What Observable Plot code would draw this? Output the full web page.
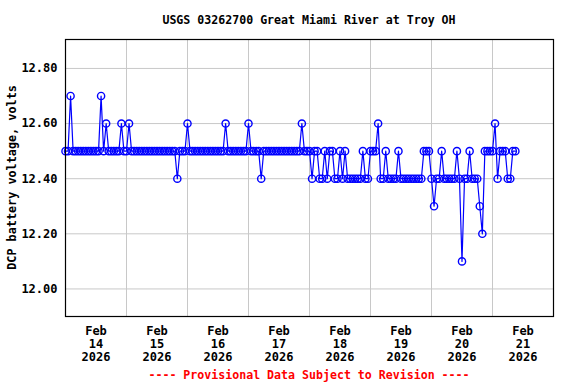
<!DOCTYPE html>
<html><head><meta charset="utf-8">
<script src="https://cdn.jsdelivr.net/npm/d3@7"></script>
<script src="https://cdn.jsdelivr.net/npm/@observablehq/plot@0.6"></script>
<style>body{margin:0;background:#fff}</style>
</head><body><div id="chart"></div>
<script>
const title = "USGS 03262700 Great Miami River at Troy OH";
const yLabel = "DCP battery voltage, volts";
const caption = "---- Provisional Data Subject to Revision ----";
const startTime = "2026-02-14T00:00Z";
const stepHours = 1;
// hourly DCP battery voltage readings, Feb 14 00:00 onward
const voltage = [
  12.5,12.5,12.7,12.5,12.5,12.5,12.5,12.5,12.5,12.5,12.5,12.5,12.5,12.5,12.7,12.5,12.6,12.5,12.5,12.5,12.5,12.5,12.6,12.5,
  12.5,12.6,12.5,12.5,12.5,12.5,12.5,12.5,12.5,12.5,12.5,12.5,12.5,12.5,12.5,12.5,12.5,12.5,12.5,12.5,12.4,12.5,12.5,12.5,
  12.6,12.5,12.5,12.5,12.5,12.5,12.5,12.5,12.5,12.5,12.5,12.5,12.5,12.5,12.5,12.6,12.5,12.5,12.5,12.5,12.5,12.5,12.5,12.5,
  12.6,12.5,12.5,12.5,12.5,12.4,12.5,12.5,12.5,12.5,12.5,12.5,12.5,12.5,12.5,12.5,12.5,12.5,12.5,12.5,12.5,12.6,12.5,12.5,
  12.5,12.4,12.5,12.5,12.4,12.4,12.5,12.4,12.5,12.5,12.4,12.4,12.5,12.4,12.5,12.4,12.4,12.4,12.4,12.4,12.4,12.5,12.4,12.4,
  12.5,12.5,12.5,12.6,12.4,12.4,12.5,12.4,12.4,12.4,12.4,12.5,12.4,12.4,12.4,12.4,12.4,12.4,12.4,12.4,12.4,12.5,12.5,12.5,
  12.4,12.3,12.4,12.4,12.5,12.4,12.4,12.4,12.4,12.4,12.5,12.4,12.1,12.4,12.4,12.5,12.4,12.4,12.4,12.3,12.2,12.5,12.5,12.5,
  12.5,12.6,12.4,12.5,12.5,12.5,12.4,12.4,12.5,12.5
];
const yTicks = [12.0, 12.2, 12.4, 12.6, 12.8];
const dayLabels = ["2026-02-14","2026-02-15","2026-02-16","2026-02-17","2026-02-18","2026-02-19","2026-02-20","2026-02-21"];
const dayGrid = ["2026-02-15","2026-02-16","2026-02-17","2026-02-18","2026-02-19","2026-02-20","2026-02-21"];
const xDomain = ["2026-02-14T00:00Z", "2026-02-22T00:00Z"];
const yDomain = [11.9, 12.905];

const t0 = new Date(startTime);
const data = voltage.map((v, i) => ({time: new Date(+t0 + i * stepHours * 3600e3), v}));

const font = "'DejaVu Sans Mono', monospace";
const W = 576, H = 384, mL = 65, mR = 23, mT = 39, mB = 68;

const chart = Plot.plot({
  width: W, height: H, marginLeft: mL, marginRight: mR, marginTop: mT, marginBottom: mB,
  style: {fontFamily: font, fontSize: "12px", fontWeight: "bold", background: "#fff", color: "#000"},
  x: {type: "utc", domain: xDomain.map(d => new Date(d))},
  y: {domain: yDomain},
  marks: [
    Plot.gridX(dayGrid.map(d => new Date(d + "T00:00Z")), {stroke: "#c8c8c8", strokeOpacity: 1}),
    Plot.gridY(yTicks, {stroke: "#c8c8c8", strokeOpacity: 1}),
    Plot.axisY(yTicks, {tickSize: 0, tickPadding: 8, tickFormat: d => d.toFixed(2), label: null}),
    Plot.axisX(dayLabels.map(d => new Date(d + "T12:00Z")), {
      tickSize: 0, tickPadding: 9, label: null, lineHeight: 1.1,
      tickFormat: d => `${d3.utcFormat("%b")(d)}\n${d.getUTCDate()}\n${d.getUTCFullYear()}`
    }),
    Plot.line(data, {x: "time", y: "v", stroke: "#0000ff", strokeWidth: 1.2}),
    Plot.dot(data, {x: "time", y: "v", r: 3.6, stroke: "#0000ff", strokeWidth: 1.4, fill: "none"}),
    Plot.frame({stroke: "#000", strokeWidth: 1.2})
  ]
});

const svg = d3.select(chart);
const cx = mL + (W - mL - mR) / 2;
svg.append("text").attr("x", cx).attr("y", 20).attr("dy", "0.35em")
  .attr("text-anchor", "middle").attr("font-size", 11.6).attr("fill", "#000").text(title);
svg.append("text").attr("x", cx).attr("y", 375).attr("dy", "0.35em")
  .attr("text-anchor", "middle").attr("font-size", 11.6).attr("fill", "#ff0000").text(caption);
svg.append("text").attr("transform", `translate(12,${mT + (H - mT - mB) / 2}) rotate(-90)`)
  .attr("dy", "0.35em").attr("text-anchor", "middle").attr("font-size", 11.8).attr("fill", "#000").text(yLabel);

document.getElementById("chart").appendChild(chart);
</script>
</body></html>
